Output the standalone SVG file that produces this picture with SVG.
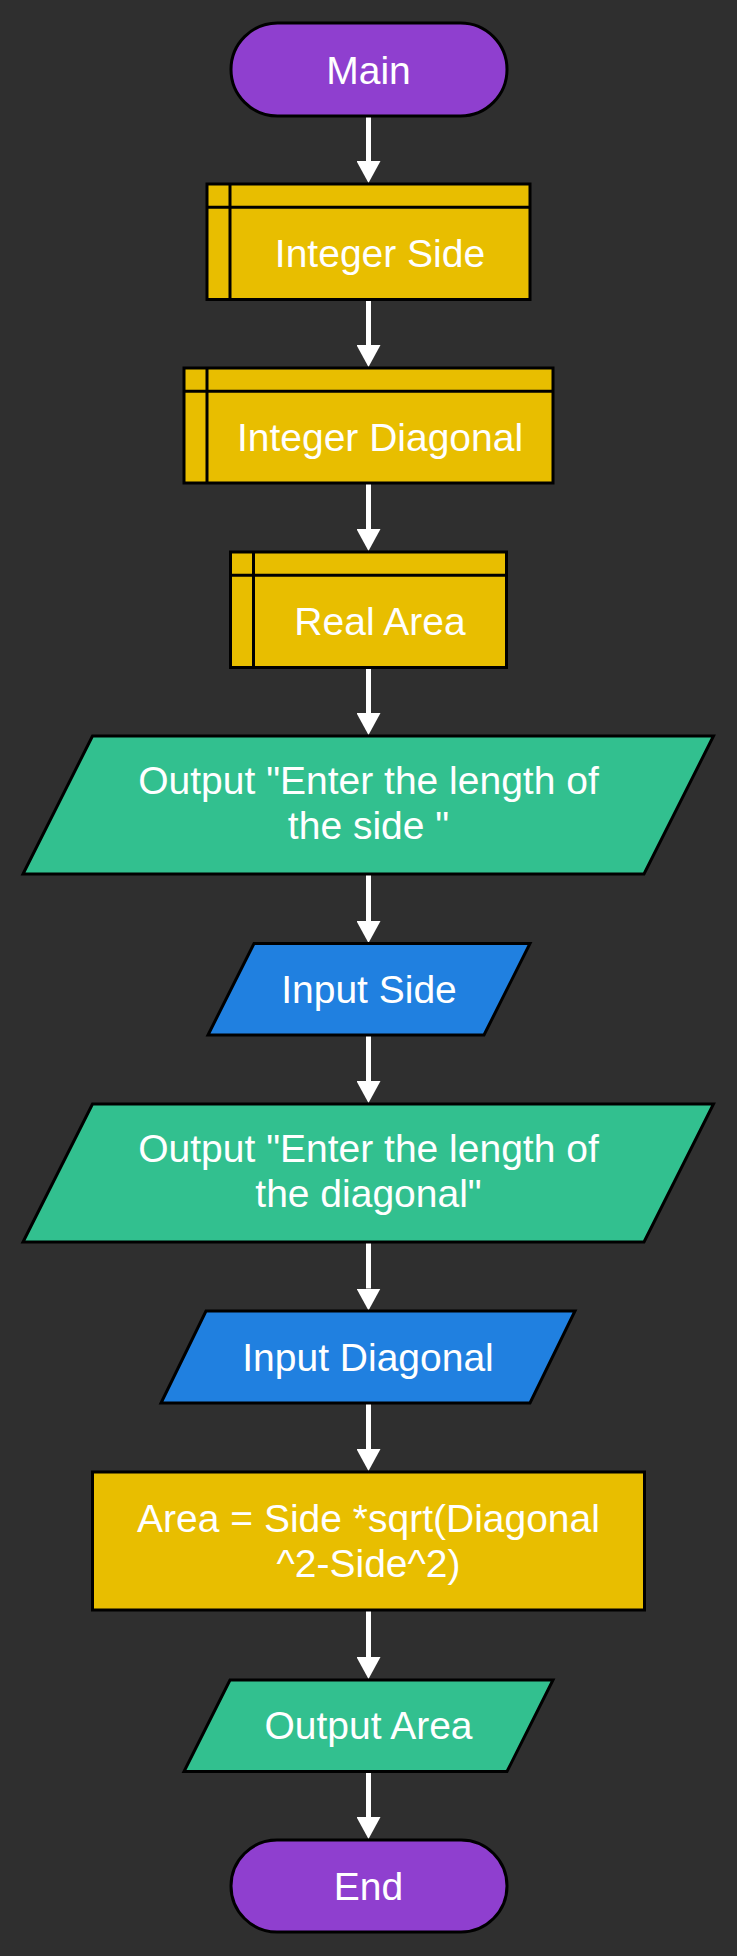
<svg xmlns="http://www.w3.org/2000/svg" width="737" height="1956" viewBox="0 0 737 1956">
<style>
.bg{fill:#2f2f2f}
.term{fill:#8f3fcf;stroke:#000;stroke-width:3}
.decl{fill:#e8be00;stroke:#000;stroke-width:3}
.proc{fill:#e8be00;stroke:#000;stroke-width:3}
.out{fill:#32c08f;stroke:#000;stroke-width:3}
.in{fill:#2080e0;stroke:#000;stroke-width:3}
.sep{stroke:#000;stroke-width:3;fill:none}
.lbl{font-family:"Liberation Sans",Arial,sans-serif;font-size:39px;fill:#fff;text-anchor:middle}
.conn{stroke:#fff;stroke-width:5;fill:none}
</style>
<defs>
<marker id="ah" markerUnits="userSpaceOnUse" viewBox="0 -12 22 24" markerWidth="22" markerHeight="24" refX="0" refY="0" orient="auto">
<path d="M0,-12 L22,0 L0,12 z" fill="#fff"/>
</marker>
</defs>
<rect class="bg" x="0" y="0" width="737" height="1956"/>
<g id="connectors">
<line class="conn" x1="368.5" y1="116" x2="368.5" y2="161" marker-end="url(#ah)"/>
<line class="conn" x1="368.5" y1="299.5" x2="368.5" y2="345" marker-end="url(#ah)"/>
<line class="conn" x1="368.5" y1="483" x2="368.5" y2="529" marker-end="url(#ah)"/>
<line class="conn" x1="368.5" y1="667.5" x2="368.5" y2="713" marker-end="url(#ah)"/>
<line class="conn" x1="368.5" y1="874" x2="368.5" y2="921" marker-end="url(#ah)"/>
<line class="conn" x1="368.5" y1="1035" x2="368.5" y2="1081" marker-end="url(#ah)"/>
<line class="conn" x1="368.5" y1="1242" x2="368.5" y2="1288.5" marker-end="url(#ah)"/>
<line class="conn" x1="368.5" y1="1403" x2="368.5" y2="1449" marker-end="url(#ah)"/>
<line class="conn" x1="368.5" y1="1610" x2="368.5" y2="1657" marker-end="url(#ah)"/>
<line class="conn" x1="368.5" y1="1771.5" x2="368.5" y2="1817" marker-end="url(#ah)"/>
</g>
<g id="main">
<rect class="term" x="231" y="23" width="276" height="93" rx="46.5" ry="46.5"/>
<text class="lbl" x="368.5" y="83.5">Main</text>
</g>
<g id="integer-side">
<rect class="decl" x="207" y="184" width="323" height="115.5"/>
<line class="sep" x1="230" y1="184" x2="230" y2="299.5"/>
<line class="sep" x1="207" y1="207.3" x2="530" y2="207.3"/>
<text class="lbl" x="380" y="267">Integer Side</text>
</g>
<g id="integer-diagonal">
<rect class="decl" x="184" y="368" width="369" height="115"/>
<line class="sep" x1="207" y1="368" x2="207" y2="483"/>
<line class="sep" x1="184" y1="391.3" x2="553" y2="391.3"/>
<text class="lbl" x="380" y="451">Integer Diagonal</text>
</g>
<g id="real-area">
<rect class="decl" x="230.5" y="552" width="276" height="115.5"/>
<line class="sep" x1="253.5" y1="552" x2="253.5" y2="667.5"/>
<line class="sep" x1="230.5" y1="575.3" x2="506.5" y2="575.3"/>
<text class="lbl" x="380" y="635">Real Area</text>
</g>
<g id="output-side-prompt">
<polygon class="out" points="92.5,736 713.5,736 644,874 23,874"/>
<text class="lbl" x="368.5" y="794">Output "Enter the length of</text>
<text class="lbl" x="368.5" y="839">the side "</text>
</g>
<g id="input-side">
<polygon class="in" points="254,943.5 530,943.5 484,1035 208,1035"/>
<text class="lbl" x="369" y="1002.5">Input Side</text>
</g>
<g id="output-diagonal-prompt">
<polygon class="out" points="92.5,1104 713.5,1104 644,1242 23,1242"/>
<text class="lbl" x="368.5" y="1162">Output "Enter the length of</text>
<text class="lbl" x="368.5" y="1207">the diagonal"</text>
</g>
<g id="input-diagonal">
<polygon class="in" points="206,1311 575,1311 530,1403 161,1403"/>
<text class="lbl" x="368" y="1370.5">Input Diagonal</text>
</g>
<g id="compute-area">
<rect class="proc" x="92.5" y="1472" width="552" height="138"/>
<text class="lbl" x="368.5" y="1531.5">Area = Side *sqrt(Diagonal</text>
<text class="lbl" x="368.5" y="1576.5">^2-Side^2)</text>
</g>
<g id="output-area">
<polygon class="out" points="230,1680 553,1680 507,1771.5 184,1771.5"/>
<text class="lbl" x="368.5" y="1739">Output Area</text>
</g>
<g id="end">
<rect class="term" x="231" y="1840" width="276" height="92" rx="46" ry="46"/>
<text class="lbl" x="368.5" y="1899.5">End</text>
</g>
</svg>
